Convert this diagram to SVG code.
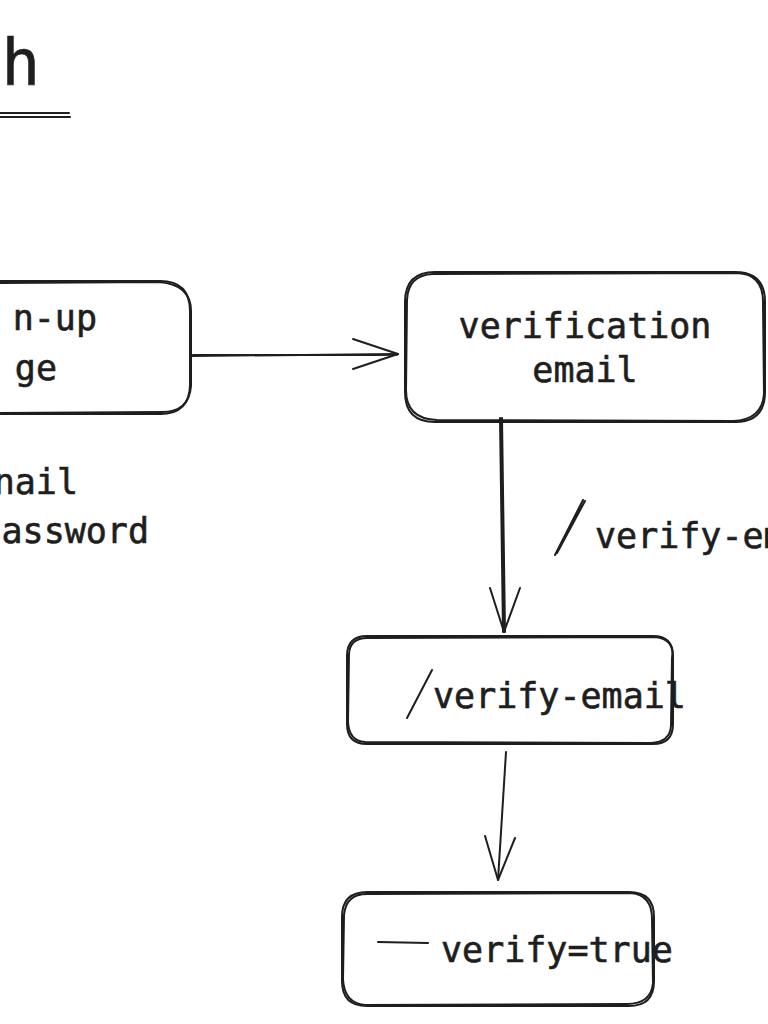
<svg xmlns="http://www.w3.org/2000/svg" width="768" height="1024" viewBox="0 0 768 1024">
<style>
.s{fill:none;stroke:#1e1e1e;stroke-width:2;stroke-linecap:round;stroke-linejoin:round}
.t{font-family:"DejaVu Sans Mono","Liberation Mono",monospace;font-size:35px;fill:#1e1e1e;stroke:#1e1e1e;stroke-width:0.6}
</style>
<rect width="768" height="1024" fill="#ffffff"/>
<g id="title">
<text class="t" x="40" y="85" text-anchor="end" style="font-size:64px">h</text>
<path class="s" d="M0 113 L69 113 M0 117 L70 117" stroke-width="1.6"/>
</g>
<g id="node-signup">
<path class="s" d="M-20 281 L160 281 Q190 281 190 311 L190 384 Q190 414 160 414 L-20 414"/>
<path class="s" d="M-20 283 L158 282 Q192 284 191 313 L191 386 Q189 412 162 412 L-20 413" stroke-width="1.2"/>
<text class="t" x="97" y="330" text-anchor="end">n-up</text>
<text class="t" x="57" y="380" text-anchor="end">ge</text>
</g>
<g id="fields">
<text class="t" x="78" y="494" text-anchor="end">nail</text>
<text class="t" x="149" y="543" text-anchor="end">assword</text>
</g>
<g id="node-verification">
<path class="s" d="M435 272 L735 272 Q765 272 765 302 L765 392 Q765 422 735 422 L435 422 Q405 422 405 392 L405 302 Q405 272 435 272 Z"/>
<path class="s" d="M433 274 L737 273 Q764 274 763 304 L764 394 Q762 420 733 421 L437 420 Q406 419 406 390 L407 300 Q408 275 433 274 Z" stroke-width="1.2"/>
<text class="t" x="585" y="338" text-anchor="middle">verification</text>
<text class="t" x="585" y="382" text-anchor="middle">email</text>
</g>
<g id="node-verify-email">
<path class="s" d="M367 636 L653 636 Q673 636 673 656 L673 724 Q673 744 653 744 L367 744 Q347 744 347 724 L347 656 Q347 636 367 636 Z"/>
<path class="s" d="M369 638 L655 637 Q675 639 672 658 L671 726 Q670 742 651 743 L365 742 Q349 741 348 722 L349 654 Q350 637 369 638 Z" stroke-width="1.2"/>
<path class="s" d="M407 718 L432 670" stroke-width="1.6"/>
<text class="t" x="433" y="708">verify-email</text>
</g>
<g id="node-verify-true">
<path class="s" d="M367 892 L629 892 Q654 892 654 917 L654 981 Q654 1006 629 1006 L367 1006 Q342 1006 342 981 L342 917 Q342 892 367 892 Z"/>
<path class="s" d="M369 894 L631 893 Q652 895 652 919 L653 983 Q651 1004 627 1004 L365 1005 Q344 1003 343 979 L344 915 Q346 893 369 894 Z" stroke-width="1.2"/>
<path class="s" d="M378 942 L428 943"/>
<text class="t" x="441" y="962">verify=true</text>
</g>
<g id="connectors">
<path class="s" d="M191 356 L398 354 M193 355 L397 355" stroke-width="1.5"/>
<path class="s" d="M353 339 L398 354 L353 369"/>
<path class="s" d="M500 418 L503 632 M502 418 L505 632" stroke-width="1.5"/>
<path class="s" d="M490 588 L504 632 L520 588"/>
<path class="s" d="M555 555 L583 500 M557 553 L585 501" stroke-width="1.4"/>
<text class="t" x="595" y="548">verify-em</text>
<path class="s" d="M506 752 L498 880"/>
<path class="s" d="M485 836 L498 880 L515 838"/>
</g>
</svg>
